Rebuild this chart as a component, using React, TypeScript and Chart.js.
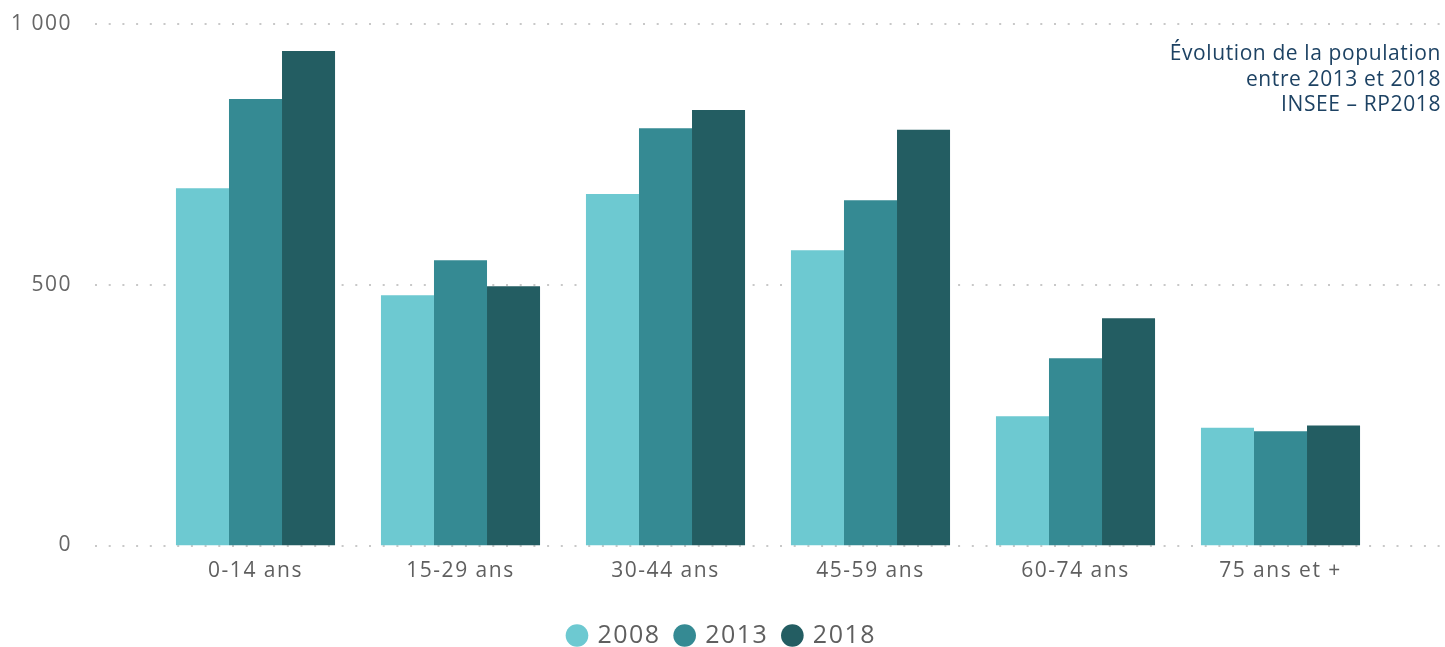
import React, { useEffect, useRef } from "react";
import { Chart, registerables } from "chart.js";

Chart.register(...registerables);

const categories = ["0-14 ans", "15-29 ans", "30-44 ans", "45-59 ans", "60-74 ans", "75 ans et +"];
const seriesLabels = ["2008", "2013", "2018"];
const values2008 = [685, 480, 674, 566, 248, 226];
const values2013 = [856, 547, 800, 662, 359, 219];
const values2018 = [948, 497, 835, 797, 436, 230];
const seriesColors = ["#6DC9D1", "#358A93", "#235D62"];
const yTicks = [0, 500, 1000];
const titleLines = ["Évolution de la population", "entre 2013 et 2018", "INSEE – RP2018"];

const formatThousands = (v: number) => String(v).replace(/\B(?=(\d{3})+(?!\d))/g, " ");

const spacingPlugin = {
  id: "letterSpacing",
  beforeUpdate(chart: any) {
    chart.ctx.letterSpacing = "1.5px";
  },
  beforeDraw(chart: any) {
    chart.ctx.letterSpacing = "1.5px";
  },
};

const dottedGridPlugin = {
  id: "dottedGrid",
  beforeDatasetsDraw(chart: any) {
    const { ctx } = chart;
    const y = chart.scales.y;
    ctx.save();
    ctx.strokeStyle = "#C8C8C8";
    ctx.lineWidth = 2;
    ctx.setLineDash([2, 11.7]);
    y.ticks.forEach((t: any) => {
      const py = Math.round(y.getPixelForValue(t.value));
      ctx.beginPath();
      ctx.moveTo(95, py);
      ctx.lineTo(1441, py);
      ctx.stroke();
    });
    ctx.restore();
  },
};

export default function App() {
  const ref = useRef<HTMLCanvasElement | null>(null);

  useEffect(() => {
    if (!ref.current) return;
    const chart = new Chart(ref.current, {
      type: "bar",
      data: {
        labels: categories,
        datasets: [values2008, values2013, values2018].map((d, i) => ({
          label: seriesLabels[i],
          data: d,
          backgroundColor: seriesColors[i],
          borderWidth: 0,
          categoryPercentage: 0.776,
          barPercentage: 1,
        })),
      },
      options: {
        animation: false,
        responsive: false,
        maintainAspectRatio: false,
        layout: { padding: { left: 0, right: 0, top: 24, bottom: 0 } },
        plugins: {
          tooltip: { enabled: false },
          legend: {
            position: "bottom",
            labels: {
              usePointStyle: true,
              pointStyle: "circle",
              boxWidth: 16,
              boxHeight: 16,
              padding: 16,
              color: "#5F5F5F",
              font: { family: "'Open Sans', sans-serif", size: 25 },
            },
          },
        },
        scales: {
          x: {
            grid: { display: false, drawTicks: false },
            border: { display: false },
            ticks: {
              color: "#5F5F5F",
              padding: 13,
              font: { family: "'Open Sans', sans-serif", size: 21 },
              maxRotation: 0,
            },
            afterFit(scale: any) {
              scale.height = 61.5;
            },
          },
          y: {
            min: 0,
            max: 1000,
            grid: { display: false, drawTicks: false },
            border: { display: false },
            afterBuildTicks(scale: any) {
              scale.ticks = yTicks.map((v) => ({ value: v }));
            },
            ticks: {
              color: "#666666",
              padding: 81,
              font: { family: "'Open Sans', sans-serif", size: 21 },
              callback: (v: any) => formatThousands(Number(v)),
            },
            afterFit(scale: any) {
              scale.width = 153;
              scale.paddingTop = 12;
              scale.paddingBottom = 12;
            },
          },
          yRightSpacer: {
            position: "right",
            display: true,
            grid: { display: false, drawTicks: false },
            border: { display: false },
            ticks: { display: false },
            afterFit(scale: any) {
              scale.width = 62;
              scale.paddingTop = 0;
              scale.paddingBottom = 0;
            },
          },
        },
      },
      plugins: [spacingPlugin, dottedGridPlugin],
    } as any);
    return () => chart.destroy();
  }, []);

  return (
    <div style={{ position: "absolute", left: 0, top: 0, width: 1445, height: 647, background: "#fff", overflow: "hidden" }}>
      <canvas ref={ref} width={1445} height={658} style={{ display: "block", width: 1445, height: 658 }} />
      <div
        style={{
          position: "absolute",
          right: 4,
          top: 40,
          textAlign: "right",
          fontFamily: "'Open Sans', sans-serif",
          fontSize: 21,
          letterSpacing: "0.6px",
          lineHeight: "25.5px",
          color: "#1D4263",
        }}
      >
        {titleLines.map((l, i) => (
          <div key={i}>{l}</div>
        ))}
      </div>
    </div>
  );
}
